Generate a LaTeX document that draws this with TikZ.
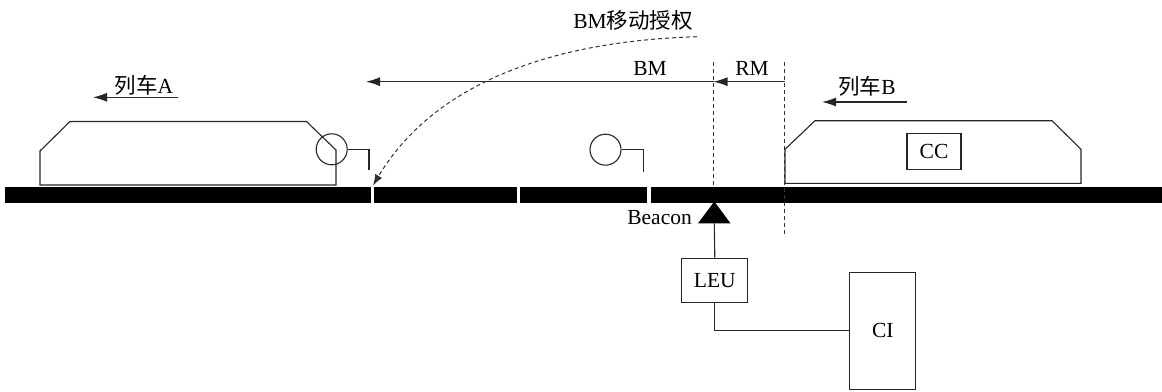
\documentclass[tikz,border=0pt]{standalone}
\usepackage{fontspec}
\setmainfont{Liberation Serif}
\newfontfamily\cjk{Noto Sans CJK SC}
\usetikzlibrary{arrows.meta}
\begin{document}
\begin{tikzpicture}[x=1pt,y=-1pt,
  font=\fontsize{21.5}{23}\selectfont,
  thin line/.style={line width=1.1pt,draw=black!85},
  rail/.style={fill=black},
  bigarrow/.style={thin line,-{Latex[length=14pt,width=9pt]}},
  dashline/.style={line width=1pt,draw=black!80,dash pattern=on 4pt off 3pt},
  box/.style={draw=black!85,line width=1.1pt,rectangle,inner sep=0pt,fill=white},
  label/.style={inner sep=0pt}]
\useasboundingbox (0,0) rectangle (1162,391);

% track sections
\fill[rail] (5,187) rectangle (371,203);
\fill[rail] (374,187) rectangle (517,203);
\fill[rail] (520,187) rectangle (647,203);
\fill[rail] (651,187) rectangle (1162,203);

% train A
\draw[thin line] (40,185) -- (40,151) -- (70,121.5) -- (306.5,121.5) -- (336,150) -- (336,185) -- cycle;
\node[thin line,circle,minimum size=31pt,inner sep=0pt] (sigA) at (331.7,149.3) {};
\coordinate (sigApost) at (369,149.3);
\coordinate (sigAfoot) at (369,170);
\draw[thin line] (sigA.east) -- (sigApost) -- (sigAfoot);

% wayside signal in the middle
\node[thin line,circle,minimum size=31pt,inner sep=0pt] (sigM) at (605.5,149.7) {};
\coordinate (sigMpost) at (643.3,149.7);
\coordinate (sigMfoot) at (643.3,171.5);
\draw[thin line] (sigM.east) -- (sigMpost) -- (sigMfoot);

% train B with its carborne controller
\draw[thin line] (785,183.3) -- (785,149.3) -- (815,120.7) -- (1052,120.7) -- (1081,149.3) -- (1081,183.3) -- cycle;
\node[box,minimum width=54pt,minimum height=36pt] (cc) at (934,151.2) {CC};

% running directions
\coordinate (dirAr) at (178,97.3);
\coordinate (dirAl) at (93,97.3);
\draw[bigarrow] (dirAr) -- (dirAl);
\node[label] (trainA) at (144,85) {{\cjk 列车}A};
\coordinate (dirBr) at (906.7,102);
\coordinate (dirBl) at (822,102);
\draw[bigarrow] (dirBr) -- (dirBl);
\node[label] (trainB) at (867,86) {{\cjk 列车}B};

% mode boundaries
\coordinate (bndBMtop) at (713.5,62);
\coordinate (bndBMbot) at (713.5,187);
\coordinate (bndRMtop) at (784.5,62);
\coordinate (bndRMbot) at (784.5,237);
\draw[dashline] (bndBMtop) -- (bndBMbot);
\draw[dashline] (bndRMtop) -- (bndRMbot);

% RM and BM ranges
\coordinate (rmR) at (784.5,81.7);
\coordinate (rmL) at (713.5,81.7);
\coordinate (bmL) at (366,81.7);
\draw[bigarrow] (rmR) -- (rmL);
\draw[bigarrow] (rmL) -- (bmL);
\node[label] (rmtxt) at (752,68) {RM};
\node[label] (bmtxt) at (650,68) {BM};

% BM movement authority
\coordinate (maStart) at (697,36.7);
\coordinate (maEnd) at (373,185.5);
\draw[dashline,-{Latex[length=11pt,width=8pt]}] (maStart) .. controls (525,42) and (425,98) .. (maEnd);
\node[label] (matxt) at (633,20.5) {BM{\cjk 移动授权}};

% beacon, LEU and interlocking
\coordinate (bcnTop) at (714.3,201.5);
\coordinate (bcnL) at (698,223.3);
\coordinate (bcnR) at (730.5,223.3);
\coordinate (bcnBase) at (714.3,223.3);
\fill[black] (bcnL) -- (bcnTop) -- (bcnR) -- cycle;
\node[label,anchor=east] (bcntxt) at (692,218) {Beacon};
\node[box,minimum width=66pt,minimum height=44pt] (leu) at (714.8,280.2) {LEU};
\node[box,minimum width=66pt,minimum height=117pt] (ci) at (882.8,330.7) {CI};
\draw[thin line] (bcnBase) -- (leu.north);
\draw[thin line] (leu.south) |- (ci.west);
\end{tikzpicture}
\end{document}
